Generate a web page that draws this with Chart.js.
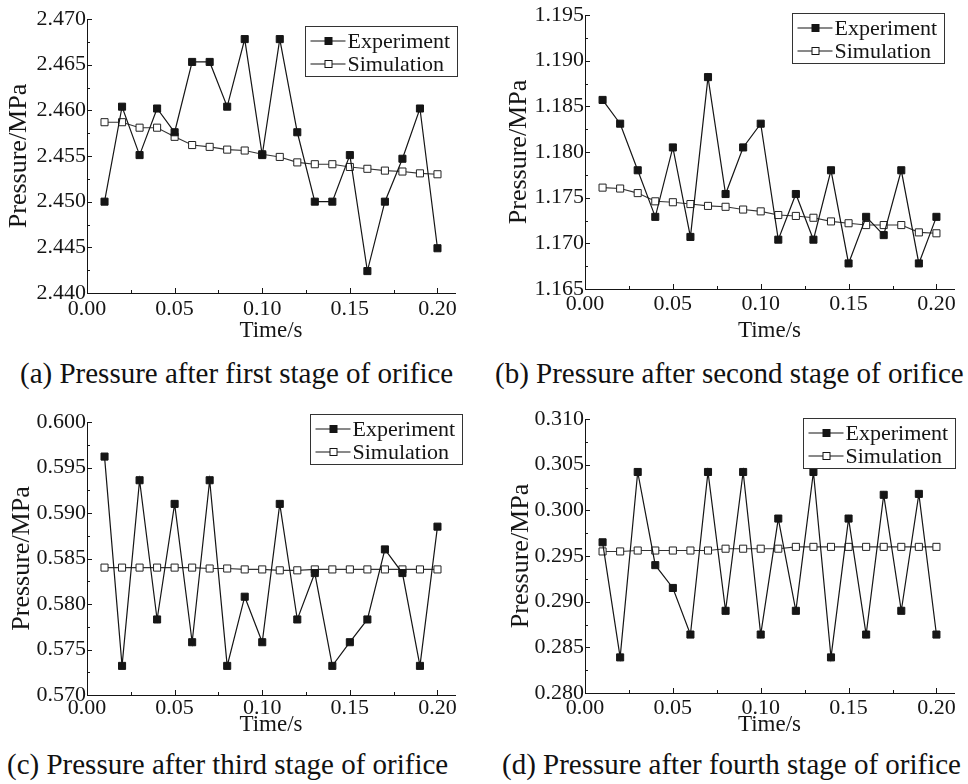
<!DOCTYPE html>
<html>
<head>
<meta charset="utf-8">
<script src="https://cdn.jsdelivr.net/npm/chart.js@4.4.1/dist/chart.umd.min.js"></script>
<style>
body { margin: 0; background: #fff; }
#page { position: relative; width: 968px; height: 784px; overflow: hidden; background: #fff; }
canvas { position: absolute; }
.cap { position: absolute; font-family: "Liberation Serif", serif; font-size: 29px; line-height: 29px; white-space: nowrap; color: #111; }
</style>
</head>
<body>
<div id="page">
  <canvas id="chartA" width="484" height="345" style="left:0;top:0"></canvas>
  <canvas id="chartB" width="484" height="345" style="left:484px;top:0"></canvas>
  <canvas id="chartC" width="484" height="347" style="left:0;top:392px"></canvas>
  <canvas id="chartD" width="484" height="347" style="left:484px;top:392px"></canvas>
  <div class="cap" style="left:20px;top:359px">(a) Pressure after first stage of orifice</div>
  <div class="cap" style="left:495px;top:359px">(b) Pressure after second stage of orifice</div>
  <div class="cap" style="left:7px;top:750px">(c) Pressure after third stage of orifice</div>
  <div class="cap" style="left:502px;top:750px">(d) Pressure after fourth stage of orifice</div>
</div>
<script>
// time axis (s)
const time = [0.01, 0.02, 0.03, 0.04, 0.05, 0.06, 0.07, 0.08, 0.09, 0.10,
              0.11, 0.12, 0.13, 0.14, 0.15, 0.16, 0.17, 0.18, 0.19, 0.20];
const xTicks = [0.00, 0.05, 0.10, 0.15, 0.20];
const xMax = 0.21;

// (a) first stage
const expA = [2.4500, 2.4604, 2.4551, 2.4602, 2.4576, 2.4653, 2.4653, 2.4604, 2.4678, 2.4551,
              2.4678, 2.4576, 2.4500, 2.4500, 2.4551, 2.4424, 2.4500, 2.4547, 2.4602, 2.4449];
const simA = [2.4587, 2.4587, 2.4581, 2.4581, 2.4571, 2.4562, 2.4560, 2.4557, 2.4556, 2.4552,
              2.4549, 2.4543, 2.4541, 2.4541, 2.4538, 2.4536, 2.4534, 2.4533, 2.4531, 2.4530];
const yTicksA = [2.440, 2.445, 2.450, 2.455, 2.460, 2.465, 2.470];

// (b) second stage
const expB = [1.1857, 1.1831, 1.1780, 1.1729, 1.1805, 1.1707, 1.1882, 1.1754, 1.1805, 1.1831,
              1.1704, 1.1754, 1.1704, 1.1780, 1.1678, 1.1729, 1.1709, 1.1780, 1.1678, 1.1729];
const simB = [1.1761, 1.1760, 1.1755, 1.1746, 1.1745, 1.1743, 1.1741, 1.1740, 1.1737, 1.1735,
              1.1731, 1.1730, 1.1728, 1.1724, 1.1722, 1.1720, 1.1720, 1.1720, 1.1712, 1.1711];
const yTicksB = [1.165, 1.170, 1.175, 1.180, 1.185, 1.190, 1.195];

// (c) third stage
const expC = [0.5962, 0.5732, 0.5936, 0.5783, 0.5910, 0.5758, 0.5936, 0.5732, 0.5808, 0.5758,
              0.5910, 0.5783, 0.5834, 0.5732, 0.5758, 0.5783, 0.5860, 0.5834, 0.5732, 0.5885];
const simC = [0.5840, 0.5840, 0.5840, 0.5840, 0.5840, 0.5840, 0.5839, 0.5839, 0.5838, 0.5838,
              0.5837, 0.5837, 0.5838, 0.5838, 0.5838, 0.5838, 0.5838, 0.5838, 0.5838, 0.5838];
const yTicksC = [0.570, 0.575, 0.580, 0.585, 0.590, 0.595, 0.600];

// (d) fourth stage
const expD = [0.2965, 0.2839, 0.3042, 0.2940, 0.2915, 0.2864, 0.3042, 0.2890, 0.3042, 0.2864,
              0.2991, 0.2890, 0.3042, 0.2839, 0.2991, 0.2864, 0.3017, 0.2890, 0.3018, 0.2864];
const simD = [0.2955, 0.2955, 0.2956, 0.2956, 0.2956, 0.2956, 0.2956, 0.2958, 0.2958, 0.2958,
              0.2958, 0.2960, 0.2960, 0.2960, 0.2960, 0.2960, 0.2960, 0.2960, 0.2960, 0.2960];
const yTicksD = [0.280, 0.285, 0.290, 0.295, 0.300, 0.305, 0.310];

const seriesNames = ['Experiment', 'Simulation'];

const ink = '#151515';
const serif = '"Liberation Serif", "Times New Roman", serif';
Chart.defaults.font.family = serif;
Chart.defaults.color = ink;

// inward tick marks, major on tick values and minor half way
const inTicks = {
  id: 'inTicks',
  afterDraw(chart) {
    const { ctx, chartArea: a, scales: { x, y } } = chart;
    ctx.save();
    ctx.strokeStyle = ink;
    ctx.lineWidth = 1;
    ctx.beginPath();
    x.ticks.forEach((t, i) => {
      const px = Math.round(x.getPixelForValue(t.value)) + 0.5;
      ctx.moveTo(px, a.bottom); ctx.lineTo(px, a.bottom - 5);
      if (i < x.ticks.length - 1) {
        const m = Math.round(x.getPixelForValue((t.value + x.ticks[i + 1].value) / 2)) + 0.5;
        ctx.moveTo(m, a.bottom); ctx.lineTo(m, a.bottom - 3);
      }
    });
    y.ticks.forEach((t, i) => {
      const py = Math.round(y.getPixelForValue(t.value)) + 0.5;
      ctx.moveTo(a.left, py); ctx.lineTo(a.left + 5, py);
      if (i < y.ticks.length - 1) {
        const m = Math.round(y.getPixelForValue((t.value + y.ticks[i + 1].value) / 2)) + 0.5;
        ctx.moveTo(a.left, m); ctx.lineTo(a.left + 3, m);
      }
    });
    ctx.stroke();
    ctx.restore();
  }
};

// boxed legend in the top right corner
const boxLegend = {
  id: 'boxLegend',
  afterDraw(chart, args, opts) {
    const { ctx, chartArea: a } = chart;
    const w = 152, h = 50;
    const left = Math.round(a.right + opts.dx - w) + 0.5;
    const top = Math.round(a.top + opts.dy) + 0.5;
    ctx.save();
    ctx.fillStyle = '#fff';
    ctx.fillRect(left, top, w, h);
    ctx.strokeStyle = '#333';
    ctx.lineWidth = 1;
    ctx.strokeRect(left, top, w, h);
    chart.data.datasets.forEach((ds, i) => {
      const cy = Math.round(top + 14 + i * 23);
      ctx.strokeStyle = ink;
      ctx.lineWidth = 1.2;
      ctx.beginPath();
      ctx.moveTo(left + 5, cy); ctx.lineTo(left + 40, cy);
      ctx.stroke();
      ctx.fillStyle = ds.pointBackgroundColor;
      ctx.fillRect(left + 19.5, cy - 3.5, 7, 7);
      ctx.lineWidth = 1;
      ctx.strokeRect(left + 19.5, cy - 3.5, 7, 7);
      ctx.fillStyle = ink;
      ctx.font = '22px ' + serif;
      ctx.textBaseline = 'middle';
      ctx.fillText(ds.label, left + 42, cy + 1);
    });
    ctx.restore();
  }
};

function makePanel(id, exp, sim, yTicks, p) {
  const ctx = document.getElementById(id).getContext('2d');
  return new Chart(ctx, {
    type: 'line',
    data: {
      datasets: [{
        label: seriesNames[0],
        data: time.map((t, i) => ({ x: t, y: exp[i] })),
        borderColor: ink,
        borderWidth: 1.2,
        pointStyle: 'rect',
        pointRadius: 5,
        pointBackgroundColor: ink,
        pointBorderColor: ink,
        pointBorderWidth: 1,
        tension: 0
      }, {
        label: seriesNames[1],
        data: time.map((t, i) => ({ x: t, y: sim[i] })),
        borderColor: '#333',
        borderWidth: 1.1,
        pointStyle: 'rect',
        pointRadius: 5,
        pointBackgroundColor: '#fff',
        pointBorderColor: '#222',
        pointBorderWidth: 1,
        tension: 0
      }]
    },
    options: {
      responsive: false,
      animation: false,
      layout: { padding: { left: 0, top: p.top, right: p.right, bottom: 0 } },
      plugins: {
        legend: { display: false },
        tooltip: { enabled: false },
        boxLegend: { dx: p.lx, dy: p.ly }
      },
      scales: {
        x: {
          type: 'linear',
          min: 0,
          max: xMax,
          grid: { display: false, drawTicks: false },
          border: { display: true, color: ink, width: 1 },
          afterBuildTicks: s => { s.ticks = xTicks.map(v => ({ value: v })); },
          afterFit: s => { s.height = p.xh; },
          ticks: {
            padding: p.tp,
            maxRotation: 0,
            font: { size: 22 },
            callback: v => v.toFixed(2)
          },
          title: {
            display: true,
            text: 'Time/s',
            font: { size: 23 },
            padding: { top: 0, bottom: 0 }
          }
        },
        y: {
          type: 'linear',
          min: yTicks[0],
          max: yTicks[yTicks.length - 1],
          grid: { display: false, drawTicks: false },
          border: { display: true, color: ink, width: 1 },
          afterBuildTicks: s => { s.ticks = yTicks.map(v => ({ value: v })); },
          afterFit: s => { s.width = p.yw; },
          ticks: {
            padding: 1,
            font: { size: 22 },
            callback: v => v.toFixed(3)
          },
          title: {
            display: true,
            text: 'Pressure/MPa',
            font: { size: 26 },
            padding: { top: p.yt, bottom: 0 }
          }
        }
      }
    },
    plugins: [inTicks, boxLegend]
  });
}

makePanel('chartA', expA, simA, yTicksA, { top: 19, right: 29, yw: 87, xh: 52, tp: 3, yt: 4, lx: 2, ly: 7 });
makePanel('chartB', expB, simB, yTicksB, { top: 15, right: 14, yw: 101, xh: 56, tp: 2, yt: 20, lx: -10, ly: -2 });
makePanel('chartC', expC, simC, yTicksC, { top: 30, right: 29, yw: 87, xh: 44, tp: 0, yt: 7, lx: 7, ly: -8 });
makePanel('chartD', expD, simD, yTicksD, { top: 27, right: 14, yw: 101, xh: 46, tp: 2, yt: 22, lx: 1, ly: -1 });
</script>
</body>
</html>
